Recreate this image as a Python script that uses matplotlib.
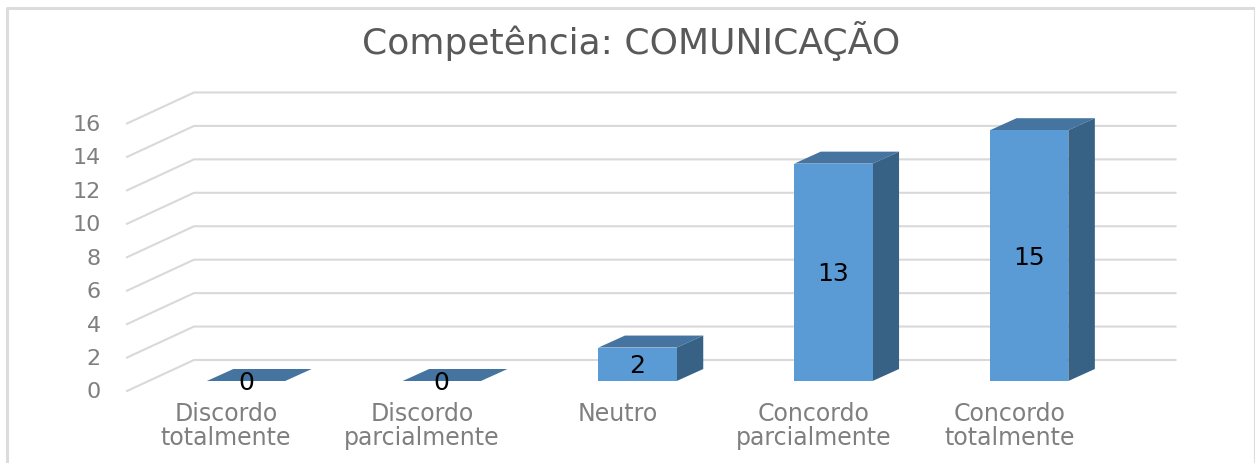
import matplotlib
matplotlib.use('Agg')
import matplotlib.pyplot as plt
import matplotlib.patches as patches

categories = ['Discordo\ntotalmente', 'Discordo\nparcialmente', 'Neutro',
              'Concordo\nparcialmente', 'Concordo\ntotalmente']
values = [0, 0, 2, 13, 15]
y_ticks = [0, 2, 4, 6, 8, 10, 12, 14, 16]
title = 'Competência: COMUNICAÇÃO'

W, H = 1255, 463
# pixel scales of the picture
CAT_PX = 195.8    # px per category
VAL_PX = 16.72    # px per unit of value
X0_PX = 246.0     # centre of first bar
Y0_PX = 381.0     # base of the bars

BAR_W = 78.3 / CAT_PX
DEPTH_X = 26.5 / CAT_PX
DEPTH_Y = 12.0 / VAL_PX
# floor of the 3d box, relative to the bar base
FRONT_X, FRONT_Y = (127 - X0_PX) / CAT_PX, -10 / VAL_PX
BACK_X, BACK_Y = (194 - X0_PX) / CAT_PX, 21 / VAL_PX
RIGHT_X = (1175.5 - X0_PX) / CAT_PX

GREY = '#7f7f7f'
GRID = '#d9d9d9'
FRONT = '#5b9bd5'
TOP = '#44749f'
SIDE = '#376286'

fig = plt.figure(figsize=(W / 100, H / 100), dpi=100)
ax = fig.add_axes([0, 0, 1, 1])
ax.set_xlim(-X0_PX / CAT_PX, (W - X0_PX) / CAT_PX)
ax.set_ylim((Y0_PX - H) / VAL_PX, Y0_PX / VAL_PX)
ax.axis('off')

# chart frame
frame = dict(color='#dcdcdc', lw=2.2, transform=fig.transFigure, clip_on=False)
ax.plot([6.5 / W, 6.5 / W, 1254.5 / W, 1254.5 / W], [0, 1 - 8 / H, 1 - 8 / H, 0], **frame)

# gridlines: side wall then back wall
for v in y_ticks:
    ax.plot([FRONT_X, BACK_X, RIGHT_X], [v + FRONT_Y, v + BACK_Y, v + BACK_Y],
            color=GRID, lw=1.5, zorder=1, solid_joinstyle='miter')
    ax.text(FRONT_X - 26 / CAT_PX, v + FRONT_Y - 7.5 / VAL_PX, str(v), ha='right', va='baseline',
            fontsize=16, color=GREY)

# bars
for i, v in enumerate(values):
    l, r = i - BAR_W / 2, i + BAR_W / 2
    ax.add_patch(patches.Polygon([(l, v), (r, v), (r + DEPTH_X, v + DEPTH_Y), (l + DEPTH_X, v + DEPTH_Y)],
                                 facecolor=TOP, edgecolor='none', zorder=2))
    if v > 0:
        ax.add_patch(patches.Polygon([(r, 0), (r + DEPTH_X, DEPTH_Y), (r + DEPTH_X, v + DEPTH_Y), (r, v)],
                                     facecolor=SIDE, edgecolor='none', zorder=2))
        ax.add_patch(patches.Rectangle((l, 0), BAR_W, v, facecolor=FRONT, edgecolor='none', zorder=3))
    ax.text(i, v / 2 - 9 / VAL_PX, str(v), ha='center', va='baseline', fontsize=18, color='black', zorder=4)

# category labels, one text per line to keep the line pitch of the picture
for i, c in enumerate(categories):
    for j, line in enumerate(c.split('\n')):
        ax.text(i - 20 / CAT_PX, (Y0_PX - 421 - 24 * j) / VAL_PX, line, ha='center', va='baseline',
                fontsize=17, color=GREY)

ax.text((631 - X0_PX) / CAT_PX, (Y0_PX - 54) / VAL_PX, title, ha='center', va='baseline',
        fontsize=26, color='#595959')

fig.savefig('out.png', dpi=100)
